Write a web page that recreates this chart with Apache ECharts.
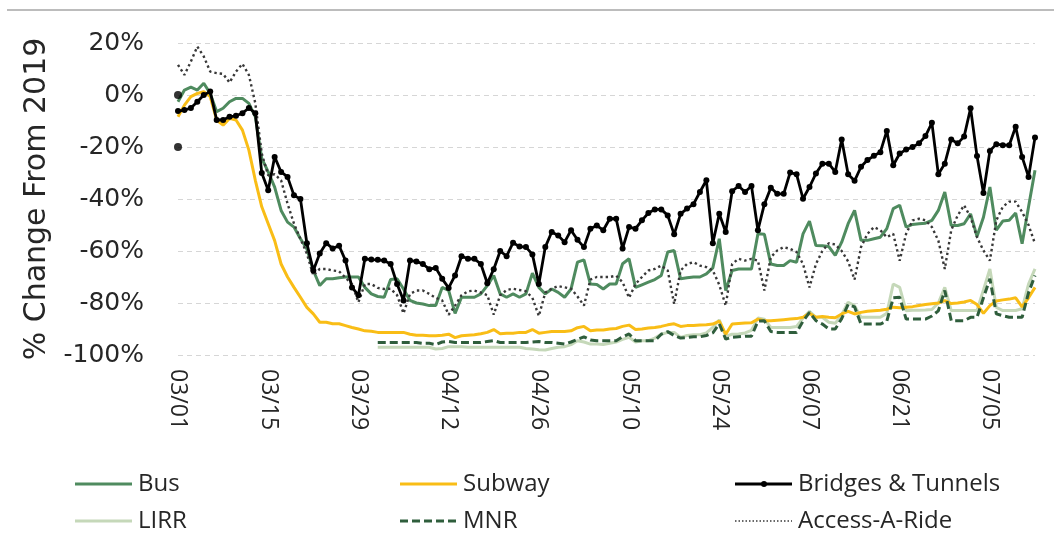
<!DOCTYPE html>
<html>
<head>
<meta charset="utf-8">
<script src="https://cdn.jsdelivr.net/npm/echarts@6/dist/echarts.min.js"></script>
<style>
html,body{margin:0;padding:0;background:#fff;}
#chart{width:1054px;height:540px;}
</style>
</head>
<body>
<div id="chart"></div>
<script>
const categories = [
"03/01","03/02","03/03","03/04","03/05","03/06","03/07","03/08","03/09","03/10","03/11","03/12","03/13","03/14","03/15","03/16","03/17","03/18","03/19","03/20","03/21","03/22","03/23","03/24","03/25","03/26","03/27","03/28","03/29","03/30","03/31",
"04/01","04/02","04/03","04/04","04/05","04/06","04/07","04/08","04/09","04/10","04/11","04/12","04/13","04/14","04/15","04/16","04/17","04/18","04/19","04/20","04/21","04/22","04/23","04/24","04/25","04/26","04/27","04/28","04/29","04/30",
"05/01","05/02","05/03","05/04","05/05","05/06","05/07","05/08","05/09","05/10","05/11","05/12","05/13","05/14","05/15","05/16","05/17","05/18","05/19","05/20","05/21","05/22","05/23","05/24","05/25","05/26","05/27","05/28","05/29","05/30","05/31",
"06/01","06/02","06/03","06/04","06/05","06/06","06/07","06/08","06/09","06/10","06/11","06/12","06/13","06/14","06/15","06/16","06/17","06/18","06/19","06/20","06/21","06/22","06/23","06/24","06/25","06/26","06/27","06/28","06/29","06/30",
"07/01","07/02","07/03","07/04","07/05","07/06","07/07","07/08","07/09","07/10","07/11","07/12"];

const bus = [
-2.6,1.9,3,1.9,4.5,0.6,-6.4,-5.1,-2.6,-1.3,-1.3,-3.2,-8.4,-24.4,-29.6,-35.4,-44.4,-48.9,-50.8,-55.3,-59.2,-67.5,-73.3,-70.7,-70.7,-70.3,-70,-70,-70,-74,-76.5,-77.5,-77.8,
-71,-70.7,-74.6,-79,-80,-80.4,-81,-81,-74,-75.2,-84,-77.8,-77.8,-77.8,-76.5,-73.3,-69.4,-76.5,-77.8,-76.5,-77.8,-76.5,-68.5,-74,-76.5,-74.6,-75.9,-77.8,-74.6,-64.3,-63.4,-72.7,-72.9,
-74.6,-72.7,-72.7,-64.9,-63,-74,-73,-72,-71,-69.4,-60.4,-59.8,-70.7,-70.3,-70,-70,-68.8,-66.5,-55.3,-75.2,-67.5,-66.9,-66.9,-66.9,-53.4,-53.6,-65,-65.6,-65.6,-63.7,-64.3,-53.4,-48.5,-57.9,
-58,-58.3,-61.7,-56.6,-49.5,-44.4,-55.9,-55.9,-55.3,-54.7,-51.4,-43.7,-42.4,-50.8,-49.8,-49.5,-49.3,-48.2,-44.4,-37.3,-50.2,-50.2,-49.5,-45.7,-54.4,-47,-35.4,-52,-48.5,-48.2,-45.4,-57.2,-43,-28.9];

const subway = [
-8.4,-3.9,-0.6,0.6,1.3,-0.6,-9.6,-11.6,-9,-9.6,-13.5,-21.2,-32.8,-43,-49.5,-56,-65,-70,-74,-77.8,-81.7,-84.2,-87.4,-87.4,-88,-88,-88.7,-89.4,-90,-90.7,-90.9,-91.3,-91.3,
-91.3,-91.3,-91.3,-92,-92.4,-92.4,-92.6,-92.6,-92.4,-92,-93.3,-92.6,-92.4,-92.2,-91.8,-91.3,-90.2,-91.8,-91.6,-91.6,-91.3,-91.3,-90.2,-91.6,-91.3,-91,-91,-91,-90.7,-89.5,-89,-90.7,-90.4,
-90.4,-90,-89.8,-89,-88.5,-90.2,-90,-89.6,-89.4,-89,-88.4,-88,-89,-88.7,-88.7,-88.5,-88.4,-88.1,-87,-92,-88.1,-87.9,-87.7,-87.6,-86.2,-86.8,-86.8,-86.6,-86.4,-86.2,-86,-85.5,-84,-85.5,
-85.2,-85.5,-85.7,-84.2,-83.2,-84.2,-83.6,-83.2,-83,-82.8,-82.4,-81.6,-81.8,-81.6,-81.4,-81,-80.6,-80.3,-80,-79.1,-80.2,-80,-79.6,-79,-80.6,-84,-81,-79.2,-78.8,-78.5,-78,-81.5,-78,-74];

const bridgesTunnels = [
-6.2,-5.8,-5,-2.6,0,1.3,-9.6,-9.6,-8.4,-8,-7,-5,-7,-30,-36.6,-23.8,-29.6,-31.5,-38.6,-40,-57,-67.5,-61,-57,-59,-58,-63.7,-74,-77,-63,-63.3,-63.4,-63.7,
-65,-72.7,-79,-63.7,-64,-65,-67,-66.5,-70.7,-74.2,-69.4,-62,-63,-63,-65,-72.4,-67,-60,-62,-56.8,-58.3,-58.5,-61.3,-72.7,-58.5,-52.7,-54,-56.6,-52,-55.7,-58.5,-51.4,-50.2,
-52,-47.6,-47.6,-59,-50.8,-51.4,-48.2,-45.4,-44,-44,-46.3,-53.6,-45.7,-43.7,-42,-37.3,-32.8,-57,-45.7,-52.7,-37,-35,-37.3,-35,-52,-42,-35.7,-38,-38,-29.8,-30.5,-39.9,-35.4,-30.2,
-26.4,-26.4,-29.6,-17.1,-30.5,-33,-27.6,-25,-23.4,-22,-13.8,-27,-22.5,-21,-20,-18.6,-15.8,-10.7,-30.5,-26.4,-17.1,-18.6,-16,-5.1,-23.5,-37.7,-21.5,-18.9,-19.3,-19.3,-12.2,-23.8,-31.5,-16.3];

// two unconnected Bridges & Tunnels markers drawn on 03/01 in the original
const bridgesStray0301 = [0, -20];

const lirr = [
null,null,null,null,null,null,null,null,null,null,null,null,null,null,null,null,null,null,null,null,null,null,null,null,null,null,null,null,null,null,null,
-97,-97,-97,-97,-97,-97,-97,-97,-97,-97.7,-97.5,-96.8,-96.8,-96.8,-97,-97,-97,-97,-97,-97,-97,-97,-97,-97.5,-97.7,-98,-98.1,-97.5,-97,-96.8,-96,-94.5,-95,-95.8,-95.8,-96,
-95.5,-95,-94,-93.2,-95,-94.5,-94.5,-93.5,-92,-91.3,-91.3,-93.2,-92.5,-92.2,-92.2,-91.5,-89.4,-86.5,-92.8,-92,-91.9,-91.5,-90.5,-85.8,-86.2,-89.4,-89.4,-89.4,-89.4,-89,-85.8,-83.2,-85.5,-85.5,
-87.4,-87.8,-84.5,-79.7,-81,-85.5,-85.5,-85.5,-85.5,-84,-72.7,-74,-83,-82.8,-82.8,-82.7,-82.5,-80,-74,-82.9,-82.9,-82.9,-82.9,-82.9,-75,-66.9,-81.7,-82.9,-82.9,-82.9,-82.2,-72.7,-66.9];

const mnr = [
null,null,null,null,null,null,null,null,null,null,null,null,null,null,null,null,null,null,null,null,null,null,null,null,null,null,null,null,null,null,null,
-95.2,-95.2,-95.2,-95.2,-95.2,-95.2,-95.2,-95.5,-95.5,-96,-95,-94.8,-95.2,-95.2,-95.2,-95.2,-95.2,-94.8,-94.5,-95.2,-95.2,-95.2,-95.2,-95.2,-95,-94.8,-95.2,-95.2,-95.5,-95.8,-95,-94,-93,-94.2,-94.5,-94.5,
-94.5,-94.5,-93,-91.9,-94.5,-94.5,-94.5,-94.5,-92,-91,-92.5,-93.5,-93.3,-93,-93,-92.5,-91.5,-88,-93.9,-93.2,-93,-92.8,-92.8,-87,-86.8,-91,-91.3,-91.3,-91.3,-91.3,-87,-83.6,-86.8,-88.1,
-90,-90,-86,-80.5,-81.5,-88.1,-88.1,-88.1,-88.1,-87,-78,-77.8,-86.2,-86.2,-86.2,-86.2,-85,-83,-75.2,-86.8,-86.8,-86.8,-85.5,-85.5,-78,-70.7,-84.2,-84.9,-85.5,-85.5,-85.5,-76,-69.4];

const accessARide = [
11.6,7.7,12.9,18.6,14.8,9,8.4,8.1,4.8,9,12,7.7,-3.2,-22.5,-30.9,-30.5,-32.8,-41.8,-49.5,-55.3,-61,-69.4,-66.9,-66.9,-67.5,-67.8,-70.3,-72.7,-79.7,-72.7,-72.7,-74.2,-74.6,
-74.5,-77,-84,-76.5,-75.2,-75.2,-76.5,-78,-79,-84.5,-81,-77,-75.5,-75.2,-76,-77,-84.5,-77,-75,-74.5,-75,-75.5,-78,-85,-76,-74.5,-73.5,-74,-74.5,-77.5,-81,-71,-70,
-70,-70,-69.5,-72,-78,-72.7,-70,-67.5,-66.9,-65.6,-67.5,-80.4,-67.5,-65,-64.3,-65.6,-66.2,-67.5,-73,-81,-65,-63,-63.7,-63,-63.7,-75.2,-62.4,-59.8,-58.5,-59.2,-60.4,-65,-74,-65,
-60,-57,-57.5,-60,-64,-71,-58.5,-53.4,-50.8,-52,-54.7,-53.4,-63.7,-53.4,-48.2,-47.6,-48.2,-50.8,-56,-66.9,-52,-46.3,-42.4,-47,-54.7,-59.8,-63.7,-48.2,-43,-41,-41,-45,-50,-57.2];

const yTicks = [-100, -80, -60, -40, -20, 0, 20];

const txt = '#262626';
const styles = {
  'Bus':               {color: '#4f8b5f', width: 3, dash: null},
  'Subway':            {color: '#f9bd16', width: 3, dash: null},
  'Bridges & Tunnels': {color: '#000000', width: 2.8, dash: null},
  'LIRR':              {color: '#c5d8b9', width: 3, dash: null},
  'MNR':               {color: '#2f5e3c', width: 3, dash: [8, 4]},
  'Access-A-Ride':     {color: '#383838', width: 2.4, dash: [2.4, 3]}
};

// legend layout: [name, left, centerY]
const legendItems = [
  ['Bus', 75, 484], ['Subway', 400, 484], ['Bridges & Tunnels', 735, 484],
  ['LIRR', 75, 521], ['MNR', 400, 521], ['Access-A-Ride', 735, 521]
];
const graphics = [{
  type: 'line', shape: {x1: 7, y1: 10, x2: 1054, y2: 10},
  style: {stroke: '#a6a6a6', lineWidth: 1.5}
}];
legendItems.forEach(([name, x, y]) => {
  const s = styles[name];
  graphics.push({type: 'line', shape: {x1: x, y1: y, x2: x + 57, y2: y},
    style: {stroke: s.color, lineWidth: name === 'Access-A-Ride' ? 1.5 : 3, lineDash: name === 'Access-A-Ride' ? [1.5, 2] : s.dash}});
  if (name === 'Bridges & Tunnels') {
    graphics.push({type: 'circle', shape: {cx: x + 29, cy: y, r: 3}, style: {fill: '#000'}});
  }
  graphics.push({type: 'text', x: x + 63, y: y,
    style: {text: name, fill: txt, font: '24px "Open Sans"', verticalAlign: 'middle', align: 'left'}});
});

const chart = echarts.init(document.getElementById('chart'), null, {renderer: 'canvas'});
const line = (name, data, extra) => Object.assign({
  name, type: 'line', data, symbol: 'none', color: styles[name].color,
  lineStyle: {width: styles[name].width, color: styles[name].color, type: styles[name].dash || 'solid'}
}, extra || {});

chart.setOption({
  animation: false,
  backgroundColor: '#fff',
  graphic: graphics,
  grid: {left: 178, right: 19, top: 43, bottom: 185, containLabel: false},
  xAxis: {
    type: 'category', data: categories, boundaryGap: false,
    axisLine: {show: false}, axisTick: {show: false},
    axisLabel: {interval: 13, rotate: -90, margin: 14, fontFamily: 'Open Sans', fontSize: 23, color: txt},
    splitLine: {show: false}
  },
  yAxis: {
    type: 'value', min: yTicks[0], max: yTicks[yTicks.length - 1], interval: 20,
    name: '% Change From 2019', nameLocation: 'middle', nameGap: 120, nameRotate: 90,
    nameTextStyle: {fontFamily: 'DejaVu Sans', fontSize: 30, color: txt},
    axisLine: {show: false}, axisTick: {show: false},
    axisLabel: {formatter: v => v + '%', margin: 34, fontFamily: 'DejaVu Sans', fontSize: 25, color: txt},
    splitLine: {show: true, lineStyle: {color: '#d6d6d6', width: 1, type: [5, 4]}}
  },
  series: [
    line('Bus', bus, {z: 4}),
    line('Subway', subway, {z: 3}),
    line('Bridges & Tunnels', bridgesTunnels, {symbol: 'circle', symbolSize: 6, showSymbol: true, showAllSymbol: true, itemStyle: {color: '#000'}, z: 6}),
    line('LIRR', lirr, {z: 2}),
    line('MNR', mnr, {z: 3}),
    line('Access-A-Ride', accessARide, {z: 5}),
    {name: 'B&T stray', type: 'scatter', data: bridgesStray0301.map(v => [categories[0], v]),
     symbol: 'circle', symbolSize: 8, itemStyle: {color: '#000'}, z: 6}
  ]
});
</script>
</body>
</html>
